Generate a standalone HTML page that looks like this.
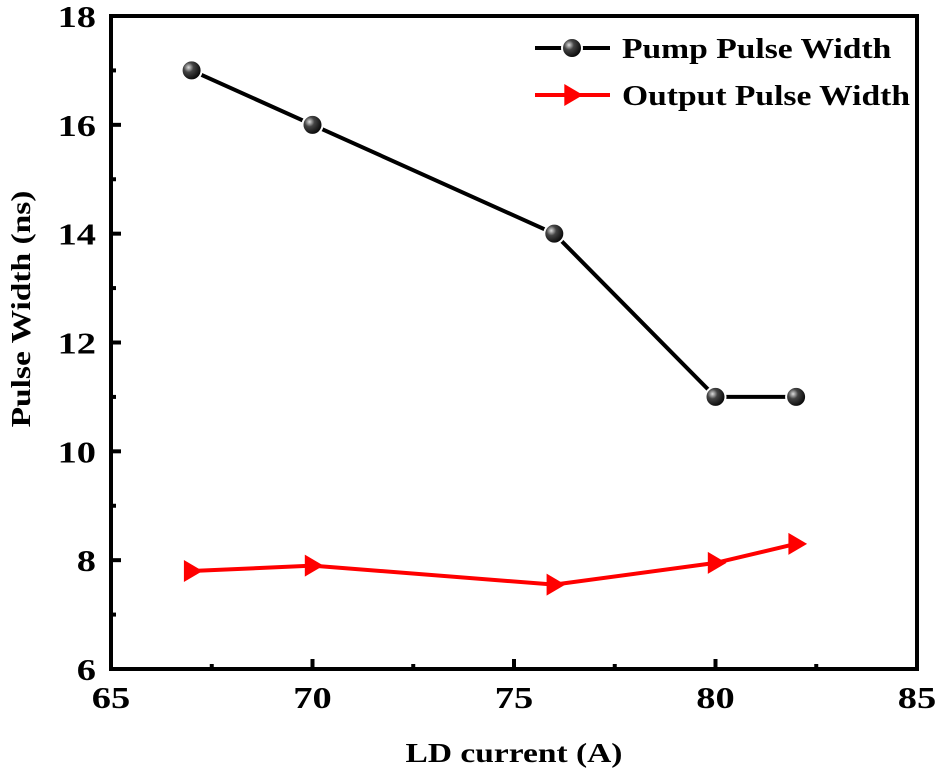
<!DOCTYPE html>
<html><head><meta charset="utf-8"><style>
body{margin:0;background:#fff}
svg text{font-family:"Liberation Serif",serif;font-weight:bold;fill:#000}
</style></head><body>
<svg id="chart" width="937" height="776" xmlns="http://www.w3.org/2000/svg">
<defs>
<radialGradient id="ball" cx="0.35" cy="0.35" r="0.7">
<stop offset="0" stop-color="#ddd"/><stop offset="0.35" stop-color="#444"/><stop offset="1" stop-color="#000"/>
</radialGradient>
</defs>
<g id="axes"></g>
<g id="series"></g>
<g id="legend"></g>
</svg>
<script>
const xCats = [67, 70, 76, 80, 82];
const pumpVals = [17, 16, 14, 11, 11];
const outputVals = [7.8, 7.9, 7.55, 7.95, 8.3];
const xTicks = [65, 70, 75, 80, 85];
const yTicks = [6, 8, 10, 12, 14, 16, 18];
const NS = "http://www.w3.org/2000/svg";
const L = 111, R = 917, T = 16, B = 669;
const SX = 1.24;
const xs = v => L + (v - 65) / 20 * (R - L);
const ys = v => B - (v - 6) / 12 * (B - T);
function mk(tag, attrs, parent, txt) {
  const e = document.createElementNS(NS, tag);
  for (const k in attrs) e.setAttribute(k, attrs[k]);
  if (txt !== undefined) e.textContent = txt;
  parent.appendChild(e); return e;
}
const ax = document.getElementById('axes');
const frame = mk('rect', {x: L, y: T, width: R - L, height: B - T, fill: 'none', stroke: '#000', 'stroke-width': 4}, ax);


xTicks.forEach((t, i) => {
  const x = xs(t);
  mk('line', {x1: x, x2: x, y1: B, y2: B - 10, stroke: '#000', 'stroke-width': 4}, ax);
  if (i < xTicks.length - 1) { const xm = xs(t + 2.5); mk('line', {x1: xm, x2: xm, y1: B, y2: B - 5, stroke: '#000', 'stroke-width': 4}, ax); }
  const lb = mk('text', {x: 0, y: 0, 'text-anchor': 'middle', 'font-size': 31, transform: `translate(${x},708) scale(${SX},1)`}, ax, t);
  
  
});
yTicks.forEach((t, i) => {
  const y = ys(t);
  mk('line', {x1: L, x2: L + 10, y1: y, y2: y, stroke: '#000', 'stroke-width': 4}, ax);
  if (i < yTicks.length - 1) { const ym = ys(t + 1); mk('line', {x1: L, x2: L + 5, y1: ym, y2: ym, stroke: '#000', 'stroke-width': 4}, ax); }
  const lb = mk('text', {x: 0, y: 0, 'text-anchor': 'end', 'font-size': 31, transform: `translate(96,${y + 11}) scale(${SX},1)`}, ax, t);
  
  
});
const xt = mk('text', {x: 0, y: 0, 'text-anchor': 'middle', 'font-size': 27, transform: `translate(514,762) scale(${SX},1)`}, ax, 'LD current (A)');


const yt = mk('text', {x: 0, y: 0, 'text-anchor': 'middle', 'font-size': 27, transform: `translate(30,309) rotate(-90) scale(${SX},1)`}, ax, 'Pulse Width (ns)');



const sg = document.getElementById('series');
function tri(x, y, s) { return `${x - s * 0.7},${y - s} ${x + s},${y} ${x - s * 0.7},${y + s}`; }
const pl1 = mk('polyline', {points: xCats.map((c, i) => xs(c) + ',' + ys(pumpVals[i])).join(' '), fill: 'none', stroke: '#000', 'stroke-width': 4}, sg);


const pl2 = mk('polyline', {points: xCats.map((c, i) => xs(c) + ',' + ys(outputVals[i])).join(' '), fill: 'none', stroke: '#f00', 'stroke-width': 4}, sg);


xCats.forEach((c, i) => {
  const p = mk('circle', {cx: xs(c), cy: ys(pumpVals[i]), r: 10, fill: 'url(#ball)', stroke: '#fff', 'stroke-width': 2}, sg);
  
  
  const q = mk('polygon', {points: tri(xs(c), ys(outputVals[i]), 11), fill: '#f00'}, sg);
  
  
});
const lg = document.getElementById('legend');
mk('line', {x1: 535, x2: 610, y1: 48, y2: 48, stroke: '#000', 'stroke-width': 4}, lg);
mk('circle', {cx: 572, cy: 48, r: 10, fill: 'url(#ball)', stroke: '#fff', 'stroke-width': 2}, lg);
const l1 = mk('text', {x: 0, y: 0, 'font-size': 28, transform: `translate(622,58) scale(1.2,1)`}, lg, 'Pump Pulse Width');


mk('line', {x1: 535, x2: 610, y1: 95, y2: 95, stroke: '#f00', 'stroke-width': 4}, lg);
mk('polygon', {points: tri(572, 95, 11), fill: '#f00'}, lg);
const l2 = mk('text', {x: 0, y: 0, 'font-size': 28, transform: `translate(622,105) scale(1.2,1)`}, lg, 'Output Pulse Width');


</script>
</body></html>
